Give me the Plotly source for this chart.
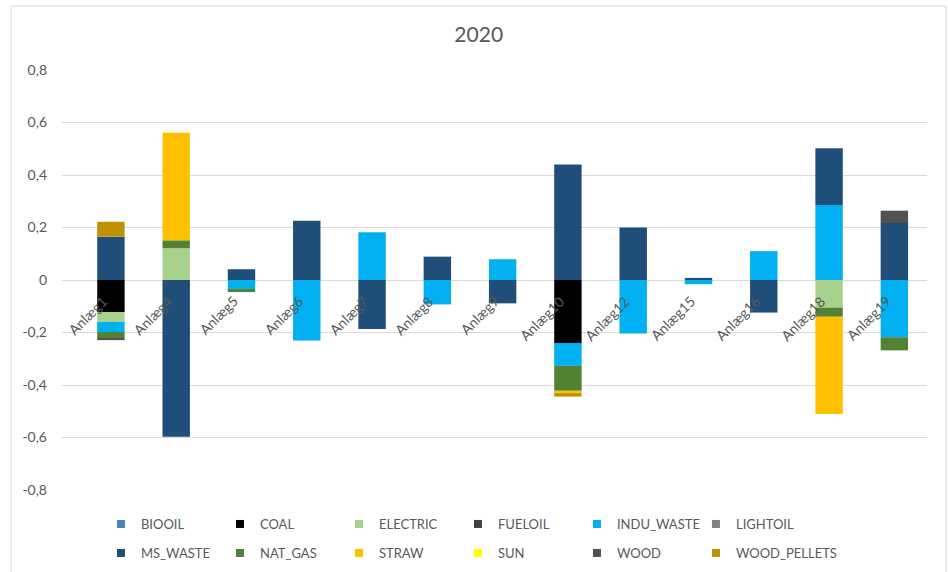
import plotly.graph_objects as go

categories = ["Anlæg1", "Anlæg4", "Anlæg5", "Anlæg6", "Anlæg7", "Anlæg8", "Anlæg9",
              "Anlæg10", "Anlæg12", "Anlæg15", "Anlæg16", "Anlæg18", "Anlæg19"]

BIOOIL = [0, 0, 0, 0, 0, 0, 0, 0, 0, 0, 0, 0, 0]
COAL = [-0.122, 0, 0, 0, 0, 0, 0, -0.24, 0, 0, 0, 0, 0]
ELECTRIC = [-0.038, 0.121, 0, 0, 0, 0, 0, 0, 0, 0, 0, -0.105, 0]
FUELOIL = [0, 0, 0, 0, 0, 0, 0, 0, 0, 0, 0, 0, 0]
INDU_WASTE = [-0.038, 0, -0.034, -0.23, 0.182, -0.093, 0.079, -0.087, -0.204, -0.016, 0.11, 0.286, -0.218]
LIGHTOIL = [0, 0, 0, 0, 0, 0, 0, 0, 0, 0, 0, 0, 0]
MS_WASTE = [0.165, -0.597, 0.041, 0.226, -0.187, 0.089, -0.089, 0.44, 0.2, 0.008, -0.124, 0.216, 0.217]
NAT_GAS = [-0.024, 0.030, -0.012, 0, 0, 0, 0, -0.095, 0, 0, 0, -0.035, -0.05]
STRAW = [0, 0.41, 0, 0, 0, 0, 0, -0.009, 0, 0, 0, -0.37, 0]
SUN = [0, 0, 0, 0, 0, 0, 0, 0, 0, 0, 0, 0, 0]
WOOD = [-0.007, 0, 0, 0, 0, 0, 0, 0, 0, 0, 0, 0, 0.047]
WOOD_PELLETS = [0.057, 0, 0, 0, 0, 0, 0, -0.013, 0, 0, 0, 0, 0]

tick_vals = [0.8, 0.6, 0.4, 0.2, 0, -0.2, -0.4, -0.6, -0.8]
tick_text = ["0,8", "0,6", "0,4", "0,2", "0", "-0,2", "-0,4", "-0,6", "-0,8"]

series = [
    ("BIOOIL", BIOOIL, "#4F81BD"),
    ("COAL", COAL, "#000000"),
    ("ELECTRIC", ELECTRIC, "#A9D18E"),
    ("FUELOIL", FUELOIL, "#404040"),
    ("INDU_WASTE", INDU_WASTE, "#00B0F0"),
    ("LIGHTOIL", LIGHTOIL, "#808080"),
    ("MS_WASTE", MS_WASTE, "#1F4E79"),
    ("NAT_GAS", NAT_GAS, "#548235"),
    ("STRAW", STRAW, "#FFC000"),
    ("SUN", SUN, "#FFFF00"),
    ("WOOD", WOOD, "#525252"),
    ("WOOD_PELLETS", WOOD_PELLETS, "#BF9000"),
]

TXT = "#595959"
FONT = "Lato"

fig = go.Figure()
for i, (name, vals, col) in enumerate(series):
    fig.add_trace(go.Bar(
        x=categories, y=vals, name=name, legendgroup=name, showlegend=False,
        marker=dict(color=col, line=dict(width=0)),
    ))

# legend entries (small square swatches, 6 per row as in the original)
for i, (name, vals, col) in enumerate(series):
    fig.add_trace(go.Scatter(
        x=[None], y=[None], mode="markers", name=name, legendgroup=name,
        marker=dict(symbol="square", size=8, color=col),
        legend="legend" if i < 6 else "legend2", showlegend=True,
    ))
for lg in ["legend", "legend2"]:
    fig.add_trace(go.Scatter(
        x=[None], y=[None], mode="markers", name=" ",
        marker=dict(symbol="square", size=8, color="rgba(0,0,0,0)"),
        legend=lg, showlegend=True,
    ))

for c in categories:
    fig.add_annotation(
        x=c, y=0, xref="x", yref="y", text=c, showarrow=False,
        textangle=-45, xanchor="right", yanchor="top",
        xshift=2, yshift=-10,
        font=dict(family=FONT, size=14, color=TXT),
    )

legend_common = dict(
    orientation="h", xanchor="left", yanchor="middle",
    xref="container", yref="container",
    entrywidth=74, entrywidthmode="pixels",
    font=dict(family=FONT, size=13, color=TXT),
    bgcolor="rgba(0,0,0,0)", itemclick=False, itemdoubleclick=False,
    tracegroupgap=0,
)

fig.update_layout(
    width=948, height=572,
    margin=dict(l=62, r=21, t=70, b=82, autoexpand=False),
    paper_bgcolor="white", plot_bgcolor="white",
    barmode="relative", bargap=0.58,
    title=dict(text="2020", x=0.505, xanchor="center", y=0.94, yanchor="middle",
               font=dict(family=FONT, size=21, color=TXT)),
    font=dict(family=FONT, size=13, color=TXT),
    xaxis=dict(showticklabels=False, showgrid=False, zeroline=False, showline=False,
               ticks=""),
    yaxis=dict(range=[-0.8, 0.8], tickvals=tick_vals, ticktext=tick_text,
               showgrid=True, gridcolor="#D9D9D9", gridwidth=1,
               zeroline=True, zerolinecolor="#D9D9D9", zerolinewidth=1,
               showline=False, ticks="", ticklabelstandoff=14,
               tickfont=dict(family=FONT, size=14, color=TXT)),
    legend=dict(x=0.1065, y=0.0839, **legend_common),
    legend2=dict(x=0.1065, y=0.0332, **legend_common),
    showlegend=True,
)

fig.add_shape(type="rect", xref="paper", yref="paper",
              x0=-0.059, x1=1.022, y0=-0.21, y1=1.152,
              line=dict(color="#D9D9D9", width=1), fillcolor="rgba(0,0,0,0)", layer="below")

fig.write_html("out.html")
